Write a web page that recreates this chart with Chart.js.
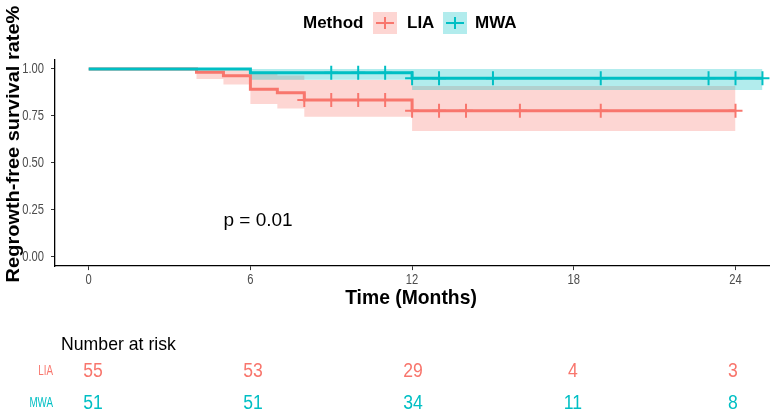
<!DOCTYPE html>
<html>
<head>
<meta charset="utf-8">
<script src="https://cdn.jsdelivr.net/npm/chart.js@4/dist/chart.umd.min.js"></script>
<style>
  html, body { margin: 0; padding: 0; background: #ffffff; }
  #wrap { width: 770px; height: 413px; }
</style>
</head>
<body>
<div id="wrap"><canvas id="c" width="770" height="413"></canvas></div>
<script>
// ---- data ----
const groups = ['LIA', 'MWA'];
const xTickValues = [0, 6, 12, 18, 24];
const yTickValues = [0, 0.25, 0.5, 0.75, 1];

const liaTime  = [0, 4, 5, 6, 7, 8, 12, 24];
const liaSurv  = [1, 0.982, 0.964, 0.892, 0.874, 0.835, 0.778, 0.778];
const liaUpper = [1, 1, 1, 0.977, 0.965, 0.941, 0.909, 0.909];
const liaLower = [1, 0.947, 0.917, 0.813, 0.789, 0.746, 0.669, 0.669];
const liaCensor = [8, 9, 10, 11, 12, 13, 14, 16, 19, 24];

const mwaTime  = [0, 6, 12, 25];
const mwaSurv  = [1, 0.980, 0.950, 0.950];
const mwaUpper = [1, 1, 1, 1];
const mwaLower = [1, 0.943, 0.888, 0.888];
const mwaCensor = [9, 10, 11, 12, 13, 15, 19, 23, 24, 25];

const riskLIA = [55, 53, 29, 4, 3];
const riskMWA = [51, 51, 34, 11, 8];

const pText = 'p = 0.01';
const pPos = [5, 0.19];

const colLIA = '#F8766D', colMWA = '#00BFC4';
const bandLIA = 'rgba(248,118,109,0.30)', bandMWA = 'rgba(0,191,196,0.30)';

// ---- helpers ----
const pts = (t, v) => t.map((x, i) => ({ x: x, y: v[i] }));
const stepAt = (t, v, x) => { let k = 0; for (let i = 0; i < t.length; i++) if (t[i] <= x) k = i; return v[k]; };
const censorPts = (c, t, v) => c.map(x => ({ x: x, y: stepAt(t, v, x) }));

function txt(ctx, s, x, y, font, color, align, sx, rot, sy) {
  ctx.save();
  ctx.translate(x, y);
  if (rot) ctx.rotate(rot);
  ctx.scale(sx || 1, sy || 1);
  ctx.font = font;
  ctx.fillStyle = color;
  ctx.textAlign = align;
  ctx.textBaseline = 'middle';
  ctx.fillText(s, 0, 0);
  ctx.restore();
}

const FONT = '"Liberation Sans", Arial, sans-serif';

const decor = {
  id: 'decor',
  afterDraw(chart) {
    const ctx = chart.ctx;
    const xs = chart.scales.x, ys = chart.scales.y, xr = chart.scales.xRisk;
    // y tick labels
    yTickValues.forEach(v => txt(ctx, v.toFixed(2), 44, ys.getPixelForValue(v), '14px ' + FONT, '#4d4d4d', 'right', 0.8));
    // x tick labels
    xTickValues.forEach(v => txt(ctx, String(v), xs.getPixelForValue(v), 280, '14px ' + FONT, '#4d4d4d', 'center', 0.8));
    // axis titles
    txt(ctx, 'Time (Months)', 411, 298, 'bold 21px ' + FONT, '#000', 'center', 0.92);
    txt(ctx, 'Regrowth-free survival rate%', 14, 144, 'bold 20px ' + FONT, '#000', 'center', 1, -Math.PI / 2, 0.95);
    // p value
    txt(ctx, pText, xs.getPixelForValue(pPos[0]), ys.getPixelForValue(pPos[1]), '19px ' + FONT, '#000', 'left');
    // legend
    txt(ctx, 'Method', 303, 23, 'bold 17px ' + FONT, '#000', 'left');
    const keys = [[373, bandLIA, colLIA, 407], [443, bandMWA, colMWA, 475]];
    keys.forEach((k, i) => {
      ctx.save();
      ctx.fillStyle = k[1];
      ctx.fillRect(k[0], 12, 24, 22);
      ctx.strokeStyle = k[2];
      ctx.lineWidth = 2;
      ctx.beginPath();
      ctx.moveTo(k[0] + 3, 23); ctx.lineTo(k[0] + 21, 23);
      ctx.moveTo(k[0] + 12, 17); ctx.lineTo(k[0] + 12, 29);
      ctx.stroke();
      ctx.restore();
      txt(ctx, groups[i], k[3], 23, 'bold 17px ' + FONT, '#000', 'left');
    });
    // risk table
    txt(ctx, 'Number at risk', 61, 345, '19px ' + FONT, '#000', 'left', 0.93);
    const rows = [[riskLIA, colLIA, 371], [riskMWA, colMWA, 403]];
    rows.forEach((r, i) => {
      txt(ctx, groups[i], 53, r[2], '14px ' + FONT, r[1], 'right', 0.7);
      r[0].forEach((n, j) => txt(ctx, String(n), xr.getPixelForValue(xTickValues[j]), r[2], '20px ' + FONT, r[1], 'center', 0.88));
    });
  }
};

const lineDs = (label, t, v, col) => ({
  label, data: pts(t, v), stepped: true, borderColor: col, borderWidth: 3,
  pointRadius: 0, fill: false, order: 0
});
const censorDs = (label, c, t, v, col) => ({
  label, data: censorPts(c, t, v), showLine: false, pointStyle: 'cross',
  pointRadius: 7, pointBorderWidth: 2, borderColor: col, backgroundColor: col, order: 0
});
const bandDs = (label, t, v, fill, bg) => ({
  label, data: pts(t, v), stepped: true, borderWidth: 0, borderColor: 'rgba(0,0,0,0)',
  pointRadius: 0, fill: fill, backgroundColor: bg, order: 1
});

new Chart(document.getElementById('c'), {
  type: 'line',
  data: {
    datasets: [
      censorDs('MWA censor', mwaCensor, mwaTime, mwaSurv, colMWA),
      lineDs('MWA', mwaTime, mwaSurv, colMWA),
      censorDs('LIA censor', liaCensor, liaTime, liaSurv, colLIA),
      lineDs('LIA', liaTime, liaSurv, colLIA),
      bandDs('MWA upper', mwaTime, mwaUpper, '+1', bandMWA),
      bandDs('MWA lower', mwaTime, mwaLower, false, bandMWA),
      bandDs('LIA upper', liaTime, liaUpper, '+1', bandLIA),
      bandDs('LIA lower', liaTime, liaLower, false, bandLIA)
    ]
  },
  options: {
    responsive: false,
    animation: false,
    devicePixelRatio: 1,
    layout: { autoPadding: false, padding: { left: 0, right: 0, top: 59.6, bottom: 146.9 } },
    plugins: {
      legend: { display: false },
      tooltip: { enabled: false },
      filler: { drawTime: 'beforeDatasetsDraw' }
    },
    scales: {
      x: {
        type: 'linear', min: -1.25, max: 25.28, position: 'bottom',
        afterBuildTicks: s => { s.ticks = xTickValues.map(v => ({ value: v })); },
        afterFit: s => { s.height = 0; },
        ticks: { display: false },
        grid: { drawOnChartArea: false, drawTicks: true, tickLength: 4, color: '#333', lineWidth: 1 },
        border: { display: true, color: '#000', width: 1.3 }
      },
      xRisk: {
        type: 'linear', axis: 'x', position: 'bottom', display: false,
        min: -1.425, max: 25.39
      },
      y: {
        type: 'linear', min: -0.05, max: 1.05,
        afterBuildTicks: s => { s.ticks = yTickValues.map(v => ({ value: v })); },
        afterFit: s => { s.width = 55; },
        ticks: { display: false },
        grid: { drawOnChartArea: false, drawTicks: true, tickLength: 4, color: '#333', lineWidth: 1 },
        border: { display: true, color: '#000', width: 1.3 }
      }
    }
  },
  plugins: [decor]
});
</script>
</body>
</html>
